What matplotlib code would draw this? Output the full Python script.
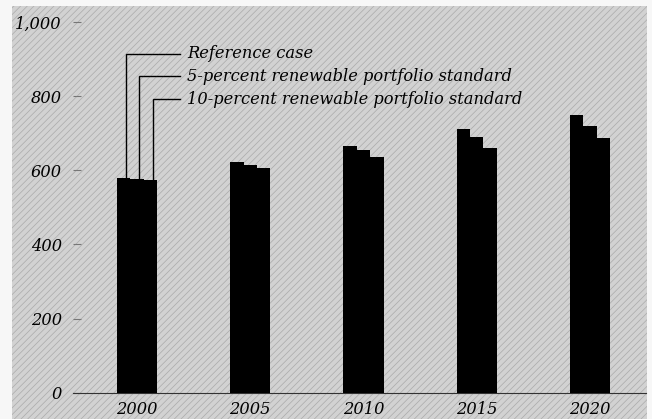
"""Renewable portfolio standard scenarios: grouped bar chart."""

import matplotlib
matplotlib.use('Agg')

import matplotlib.pyplot as plt
import numpy as np
from matplotlib.patches import Rectangle


# --- Data ---
YEARS = ['2000', '2005', '2010', '2015', '2020']
REFERENCE = [580, 624, 666, 712, 750]
RPS_5 = [576, 615, 655, 691, 721]
RPS_10 = [574, 606, 637, 662, 687]
SERIES_LABELS = ['Reference case',
                 '5-percent renewable portfolio standard',
                 '10-percent renewable portfolio standard']
Y_TICKS = [0, 200, 400, 600, 800, 1000]
Y_TICK_LABELS = ['0', '200', '400', '600', '800', '1,000']

FONT = dict(family='DejaVu Serif', style='italic', size=11.7)

plt.rcParams['hatch.linewidth'] = 0.5
fig = plt.figure(figsize=(6.52, 4.19), dpi=100, facecolor='#f7f7f7')

# textured grey panel behind everything
panel = Rectangle((12 / 652, 0), 635 / 652, 413 / 419, transform=fig.transFigure,
                  facecolor='#d2d2d2', edgecolor='#aaaaaa', hatch='/////',
                  linewidth=0, zorder=-10)
fig.patches.append(panel)

ax = fig.add_axes([73 / 652, (419 - 392.5) / 419, 573 / 652, 370 / 419])
ax.set_facecolor('none')
ax.set_zorder(5)

x = np.arange(len(YEARS))
w = 0.118
series = [REFERENCE, RPS_5, RPS_10]
for i, vals in enumerate(series):
    ax.bar(x + (i - 1) * w, vals, w, color='black', linewidth=0, zorder=3)

# leader lines from the first group to the labels
label_y = [915, 855, 793]
line_end = 0.38
for i, vals in enumerate(series):
    bx = (i - 1) * w + 0.02
    ax.plot([bx, bx, line_end], [vals[0], label_y[i], label_y[i]],
            color='black', lw=1.0, zorder=4, solid_joinstyle='miter')
    ax.text(line_end + 0.065, label_y[i], SERIES_LABELS[i], va='center',
            ha='left', **FONT)

ax.set_xlim(-0.565, 4.494)
ax.set_ylim(0, 1000)
ax.set_xticks(x)
ax.set_xticklabels(YEARS, **FONT)
ax.set_yticks(Y_TICKS)
ax.set_yticklabels(Y_TICK_LABELS, **FONT)
ax.tick_params(axis='x', length=0, pad=6)
ax.tick_params(axis='y', direction='in', length=6, width=0.8,
               color='#777777', pad=8)

for side in ['top', 'right', 'left']:
    ax.spines[side].set_visible(False)
ax.spines['bottom'].set_color('#333333')
ax.spines['bottom'].set_linewidth(0.8)

fig.savefig('out.png', dpi=100, facecolor=fig.get_facecolor())
